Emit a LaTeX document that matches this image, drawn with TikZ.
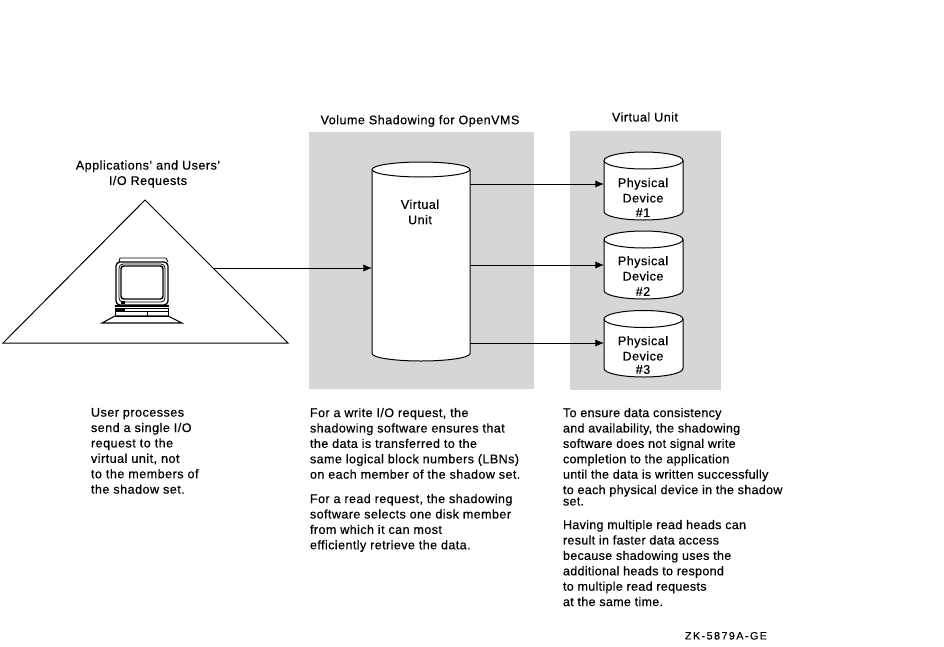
\documentclass[tikz,border=0pt]{standalone}
\usepackage{fontspec}
\setmainfont[FakeBold=0.5,LetterSpace=4]{Liberation Sans}
\usetikzlibrary{arrows.meta}
\definecolor{panelgrey}{RGB}{214,214,214}
\tikzset{
  panel/.style={fill=panelgrey,draw=none},
  line/.style={draw=black,line width=0.75pt},
  flow/.style={line,-{Latex[length=6.5pt,width=5.5pt]}},
  anchorbox/.style={inner sep=0pt,outer sep=0pt,draw=none},
  label/.style={inner sep=0pt,outer sep=0pt,align=center,font=\fontsize{9.4pt}{11.5pt}\selectfont},
  para/.style={inner sep=0pt,outer sep=0pt,align=left,anchor=north west,font=\fontsize{9.4pt}{11.55pt}\selectfont},
  midpara/.style={para,font=\fontsize{9.4pt}{11.55pt}\addfontfeature{LetterSpace=3.4}},
  rightpara/.style={para,font=\fontsize{9.4pt}{11.55pt}\addfontfeature{LetterSpace=2.4}},
  thin line/.style={draw=black,line width=0.6pt}
}
% #1 name, #2 left, #3 right, #4 ellipse centre y, #5 ry, #6 side bottom y, #7 node centre y, #8 node height
\newcommand{\drum}[8]{%
  \path[line,fill=white] (#2,#4) -- (#2,#6) arc[start angle=180,end angle=0,x radius={(#3-#2)/2},y radius=#5] -- (#3,#4)
     arc[start angle=0,end angle=-180,x radius={(#3-#2)/2},y radius=#5] -- cycle;
  \path[line] (#2,#4) arc[start angle=180,end angle=0,x radius={(#3-#2)/2},y radius=#5];
  \node[anchorbox,minimum width={(#3-#2)*0.75pt},minimum height={#8*0.75pt}] (#1) at ({(#2+#3)/2},#7) {};
}
\begin{document}
\begin{tikzpicture}[x=0.75pt,y=-0.75pt]
\useasboundingbox (0,0) rectangle (944,646);
% panels
\path[panel] (309,132) rectangle (534,389);
\path[panel] (570,131) rectangle (721,390);
% triangle
\path[line,line join=miter] (145,200) -- (288,343) -- (3,343) -- cycle;
\coordinate (triedge) at (214,268);
% computer
\begin{scope}[thin line]
  \draw[line width=0.6pt] (119,262) -- (120,258) -- (166,258) -- (168,262);
  \draw[line width=1.0pt,rounded corners=3pt] (116,262) rectangle (168,305);
  \draw[line width=0.6pt,rounded corners=3pt] (119,264) rectangle (165,302);
  \draw[line width=1.1pt,rounded corners=2pt] (121,266) rectangle (163,299);
  \fill (121,301) rectangle (125,304);
  \draw[line width=1.1pt] (115,306) -- (169,306);
  \draw[line width=0.7pt] (115,308.5) rectangle (168,316);
  \draw[line width=0.7pt] (115,311) -- (168,311);
  \draw[line width=0.6pt] (147,311) -- (147,316);
  \fill (115,309) rectangle (125,311);
  \draw[line width=0.8pt] (115,316) -- (102,323) -- (182,323) -- (168,316) -- cycle;
\end{scope}
% drums
\drum{vu}{372}{470}{169.5}{7.5}{353.5}{268}{184}
\drum{pdone}{604}{683}{160.5}{8.5}{211.5}{184}{60}
\drum{pdtwo}{604}{683}{239.5}{8.5}{290.5}{265}{60}
\drum{pdthree}{604}{683}{319}{8.5}{368.5}{343}{60}
% connectors
\draw[flow] (triedge) -- (vu.west);
\draw[flow] (vu.east |- pdone.west) -- (pdone.west);
\draw[flow] (vu.east |- pdtwo.west) -- (pdtwo.west);
\draw[flow] (vu.east |- pdthree.west) -- (pdthree.west);
% labels
\node[label] (apps) at (148,174) {Applications' and Users'\\I/O Requests};
\node[label] (vsl) at (420,121) {Volume Shadowing for OpenVMS};
\node[label] (vul) at (645,117) {Virtual Unit};
\node[label] (vut) at (420,212) {Virtual\\Unit};
\node[label] (pd1t) at (643,197.5) {Physical\\Device\\[-0.6pt]\#1};
\node[label] (pd2t) at (643,276) {Physical\\Device\\\#2};
\node[label] (pd3t) at (643,355) {Physical\\Device\\[-1.5pt]\#3};
% paragraphs
\node[para] (ptl) at (91,408) {User processes\\send a single I/O\\request to the\\virtual unit, not\\to the members of\\the shadow set.};
\node[midpara] (pm1) at (310,408) {For a write I/O request, the\\shadowing software ensures that\\the data is transferred to the\\same logical block numbers (LBNs)\\on each member of the shadow set.};
\node[midpara] (pm2) at (310,494) {For a read request, the shadowing\\software selects one disk member\\from which it can most\\efficiently retrieve the data.};
\node[rightpara] (pr1) at (563,408) {To ensure data consistency\\and availability, the shadowing\\software does not signal write\\completion to the application\\until the data is written successfully\\to each physical device in the shadow\\[-3pt]set.};
\node[rightpara] (pr2) at (563,520) {Having multiple read heads can\\result in faster data access\\because shadowing uses the\\additional heads to respond\\to multiple read requests\\at the same time.};
\node[para,font=\fontsize{8pt}{10pt}\addfontfeature{LetterSpace=14}] (zk) at (685,632) {ZK-5879A-GE};
\end{tikzpicture}
\end{document}
